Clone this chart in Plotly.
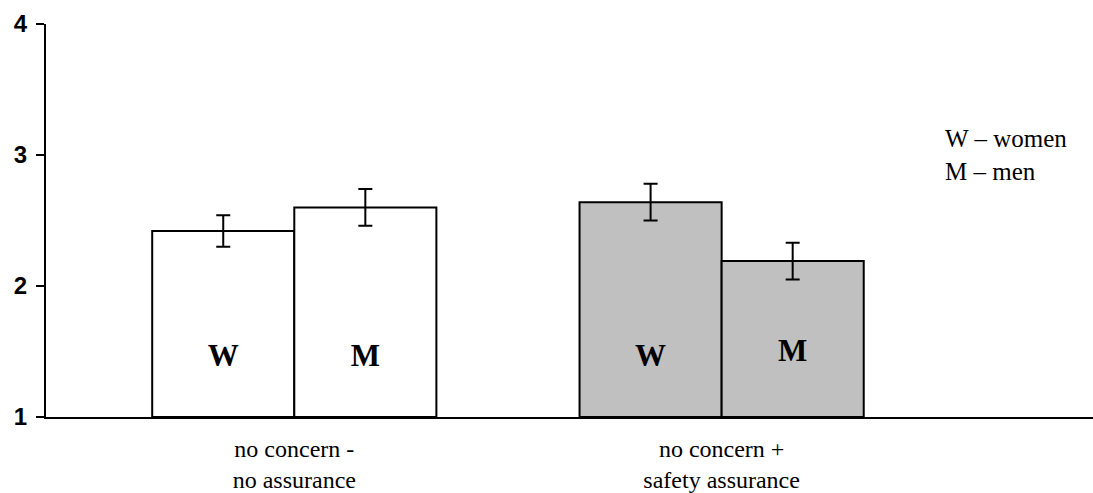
import plotly.graph_objects as go

categories = ["no concern -<br>no assurance", "no concern +<br>safety assurance"]
women = [2.42, 2.64]
men = [2.60, 2.19]
women_err = [0.12, 0.14]
men_err = [0.14, 0.14]
bar_colors = ["#FFFFFF", "#C0C0C0"]
label_y_w = [1.45, 1.45]
label_y_m = [1.45, 1.49]
y_ticks = [1, 2, 3, 4]

SERIF = "Liberation Serif"
SANS = "Liberation Sans"

xpos = list(range(len(categories)))
bargap = 0.335
half = (1 - bargap) / 4  # center offset of each bar in a group

fig = go.Figure()
fig.add_trace(go.Bar(
    x=xpos, y=[v - 1 for v in women], base=1, name="W",
    marker=dict(color=bar_colors, line=dict(color="black", width=2)),
    error_y=dict(type="data", array=women_err, color="black", thickness=2, width=7),
    showlegend=False,
))
fig.add_trace(go.Bar(
    x=xpos, y=[v - 1 for v in men], base=1, name="M",
    marker=dict(color=bar_colors, line=dict(color="black", width=2)),
    error_y=dict(type="data", array=men_err, color="black", thickness=2, width=7),
    showlegend=False,
))
fig.add_trace(go.Scatter(
    x=[p - half for p in xpos] + [p + half for p in xpos],
    y=label_y_w + label_y_m,
    text=["W"] * len(xpos) + ["M"] * len(xpos),
    mode="text",
    textfont=dict(family=SERIF, size=31, color="black", weight="bold"),
    showlegend=False, hoverinfo="skip",
))

fig.update_layout(
    template="none",
    width=1093, height=493,
    margin=dict(l=46, r=0, t=24, b=76, autoexpand=False),
    paper_bgcolor="white", plot_bgcolor="white",
    font=dict(family=SERIF, color="black"),
    barmode="group", bargap=bargap, bargroupgap=0,
    xaxis=dict(
        range=[-0.581, 1.869], tickvals=xpos, ticktext=categories,
        showline=True, linecolor="black", linewidth=2, ticks="",
        ticklabelstandoff=9, automargin=False,
        showgrid=False, zeroline=False,
        tickfont=dict(family=SERIF, size=24, color="black"),
    ),
    yaxis=dict(
        range=[1, 4], tickvals=y_ticks, showline=True, linecolor="black", linewidth=2,
        ticks="outside", ticklen=8, tickwidth=2, tickcolor="black",
        ticklabelstandoff=4, automargin=False,
        showgrid=False, zeroline=False,
        tickfont=dict(family=SANS, size=24, color="black", weight="bold"),
    ),
    annotations=[dict(
        xref="paper", yref="paper", x=0.857, y=0.748, xanchor="left", yanchor="top",
        text="W – women<br>M – men", showarrow=False, align="left",
        font=dict(family=SERIF, size=25, color="black"),
    )],
    shapes=[dict(
        type="line", xref="paper", yref="y", x0=0, x1=0,
        ysizemode="pixel", yanchor=1, y0=0, y1=-8,
        line=dict(color="black", width=2),
    )],
)

fig.write_html(
    "out.html",
    config={"displayModeBar": False},
    post_script="document.body.style.margin='0';document.body.style.overflow='hidden';",
)
